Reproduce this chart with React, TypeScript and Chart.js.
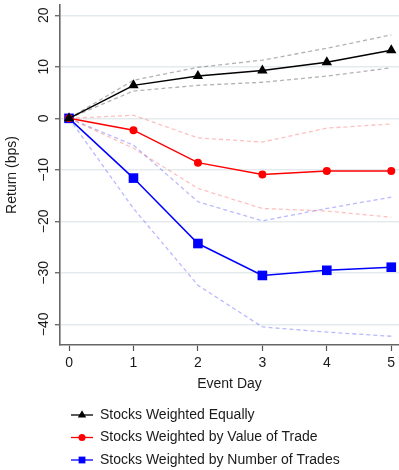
import React, { useEffect, useRef } from 'react';
import { Chart, registerables } from 'chart.js';

Chart.register(...registerables);

// ---- data ----
const days = [0, 1, 2, 3, 4, 5];
const equalMean = [0, 6.4, 8.2, 9.3, 10.9, 13.2];
const equalUpper = [0, 7.4, 9.9, 11.3, 13.6, 16.2];
const equalLower = [0, 5.3, 6.4, 7.0, 8.2, 9.8];
const valueMean = [0, -2.3, -8.6, -10.9, -10.2, -10.2];
const valueUpper = [0, 0.6, -3.8, -4.6, -1.9, -1.1];
const valueLower = [0, -5.8, -13.6, -17.5, -18.0, -19.2];
const numberMean = [0, -11.6, -24.3, -30.5, -29.5, -28.9];
const numberUpper = [0, -5.2, -16.2, -19.9, -17.5, -15.3];
const numberLower = [0, -17.5, -32.4, -40.5, -41.5, -42.3];
const yTicks = [-40, -30, -20, -10, 0, 10, 20];
const xTicks = [0, 1, 2, 3, 4, 5];
const seriesNames = [
  'Stocks Weighted Equally',
  'Stocks Weighted by Value of Trade',
  'Stocks Weighted by Number of Trades',
];
const seriesColors = ['#000000', '#ff0000', '#0000ff'];
const seriesMarkers = ['triangle', 'circle', 'rect'];
const bandColors = ['rgba(0,0,0,0.3)', 'rgba(255,0,0,0.25)', 'rgba(0,0,255,0.28)'];

const FONT = "'Liberation Sans', Arial, Helvetica, sans-serif";

const pts = (arr: number[]) => days.map((d, i) => ({ x: d, y: arr[i] }));

function drawMarker(ctx: CanvasRenderingContext2D, kind: string, x: number, y: number, color: string) {
  ctx.fillStyle = color;
  ctx.beginPath();
  if (kind === 'triangle') {
    const r = 4.8;
    ctx.moveTo(x, y - r);
    ctx.lineTo(x + 0.866 * r, y + 0.5 * r);
    ctx.lineTo(x - 0.866 * r, y + 0.5 * r);
    ctx.closePath();
  } else if (kind === 'circle') {
    ctx.arc(x, y, 3.5, 0, Math.PI * 2);
  } else {
    const s = 3.4;
    ctx.rect(x - s, y - s, 2 * s, 2 * s);
  }
  ctx.fill();
}

const legendPlugin = {
  id: 'customLegend',
  afterDraw(chart: any) {
    const ctx = chart.ctx as CanvasRenderingContext2D;
    ctx.save();
    ctx.font = `14px ${FONT}`;
    ctx.textBaseline = 'middle';
    ctx.textAlign = 'left';
    seriesNames.forEach((name, i) => {
      const y = chart.height - 55 + i * 22.5;
      ctx.strokeStyle = seriesColors[i];
      ctx.lineWidth = 1.3;
      ctx.beginPath();
      ctx.moveTo(71, y);
      ctx.lineTo(93, y);
      ctx.stroke();
      drawMarker(ctx, seriesMarkers[i], 82, y, seriesColors[i]);
      ctx.fillStyle = '#1a1a1a';
      ctx.fillText(name, 100, y);
    });
    ctx.restore();
  },
};

export default function App() {
  const ref = useRef<HTMLCanvasElement>(null);
  useEffect(() => {
    if (!ref.current) return;
    const mainSets = [equalMean, valueMean, numberMean].map((arr, i) => ({
      label: seriesNames[i],
      data: pts(arr),
      borderColor: seriesColors[i],
      backgroundColor: seriesColors[i],
      borderWidth: 1.5,
      pointStyle: seriesMarkers[i],
      pointRadius: i === 0 ? 6 : i === 1 ? 4 : 6.8,
      pointBorderWidth: 0,
      order: 0,
    }));
    const bands = [
      [equalUpper, equalLower],
      [valueUpper, valueLower],
      [numberUpper, numberLower],
    ];
    const bandSets: any[] = [];
    bands.forEach((pair, i) => {
      pair.forEach((arr, j) => {
        bandSets.push({
          label: `${seriesNames[i]} ${j === 0 ? 'upper' : 'lower'}`,
          data: pts(arr),
          borderColor: bandColors[i],
          borderWidth: 1.3,
          borderDash: [4, 3],
          pointRadius: 0,
          order: 1,
        });
      });
    });
    const chart = new Chart(ref.current, {
      type: 'line',
      data: { datasets: [...mainSets, ...bandSets] },
      plugins: [legendPlugin],
      options: {
        animation: false,
        responsive: false,
        maintainAspectRatio: false,
        layout: { autoPadding: false, padding: { top: 5, right: 0, bottom: 75, left: 0 } },
        plugins: { legend: { display: false }, tooltip: { enabled: false } },
        scales: {
          x: {
            type: 'linear',
            min: -0.14,
            max: 5.12,
            afterBuildTicks: (s: any) => { s.ticks = xTicks.map((v) => ({ value: v })); },
            afterFit: (s: any) => { s.height = 50; s.paddingLeft = 0; s.paddingRight = 0; },
            grid: { display: true, drawOnChartArea: false, drawTicks: true, tickLength: 6, tickColor: '#555', tickWidth: 1.2 },
            border: { display: true, color: '#666', width: 1.6 },
            ticks: { font: { size: 14, family: FONT }, color: '#1a1a1a', padding: 4, maxRotation: 0, minRotation: 0 },
            title: { display: true, text: 'Event Day', font: { size: 14, family: FONT }, color: '#1a1a1a', padding: { top: 0, bottom: 2.5 } },
          },
          y: {
            type: 'linear',
            min: -44,
            max: 22,
            afterBuildTicks: (s: any) => { s.ticks = yTicks.map((v) => ({ value: v })); },
            afterFit: (s: any) => { s.width = 60; s.paddingTop = 0; s.paddingBottom = 0; },
            grid: { color: '#e4ebee', lineWidth: 1.5, drawTicks: true, tickLength: 5, tickColor: '#555', tickWidth: 1.2 },
            border: { display: true, color: '#666', width: 1.6 },
            ticks: {
              font: { size: 14, family: FONT },
              color: '#1a1a1a',
              minRotation: 90,
              maxRotation: 90,
              crossAlign: 'center',
              padding: -1,
              callback: (v: any) => String(v).replace('-', '\u2212'),
            },
            title: { display: true, text: 'Return (bps)', font: { size: 14, family: FONT }, color: '#1a1a1a', padding: { top: 4, bottom: 0 } },
          },
        },
      },
    } as any);
    return () => chart.destroy();
  }, []);
  return (
    <div style={{ position: 'absolute', left: 0, top: 0, width: 399, height: 470, overflow: 'hidden' }}>
      <canvas ref={ref} width={399} height={470} style={{ display: 'block', width: 399, height: 470 }} />
    </div>
  );
}
